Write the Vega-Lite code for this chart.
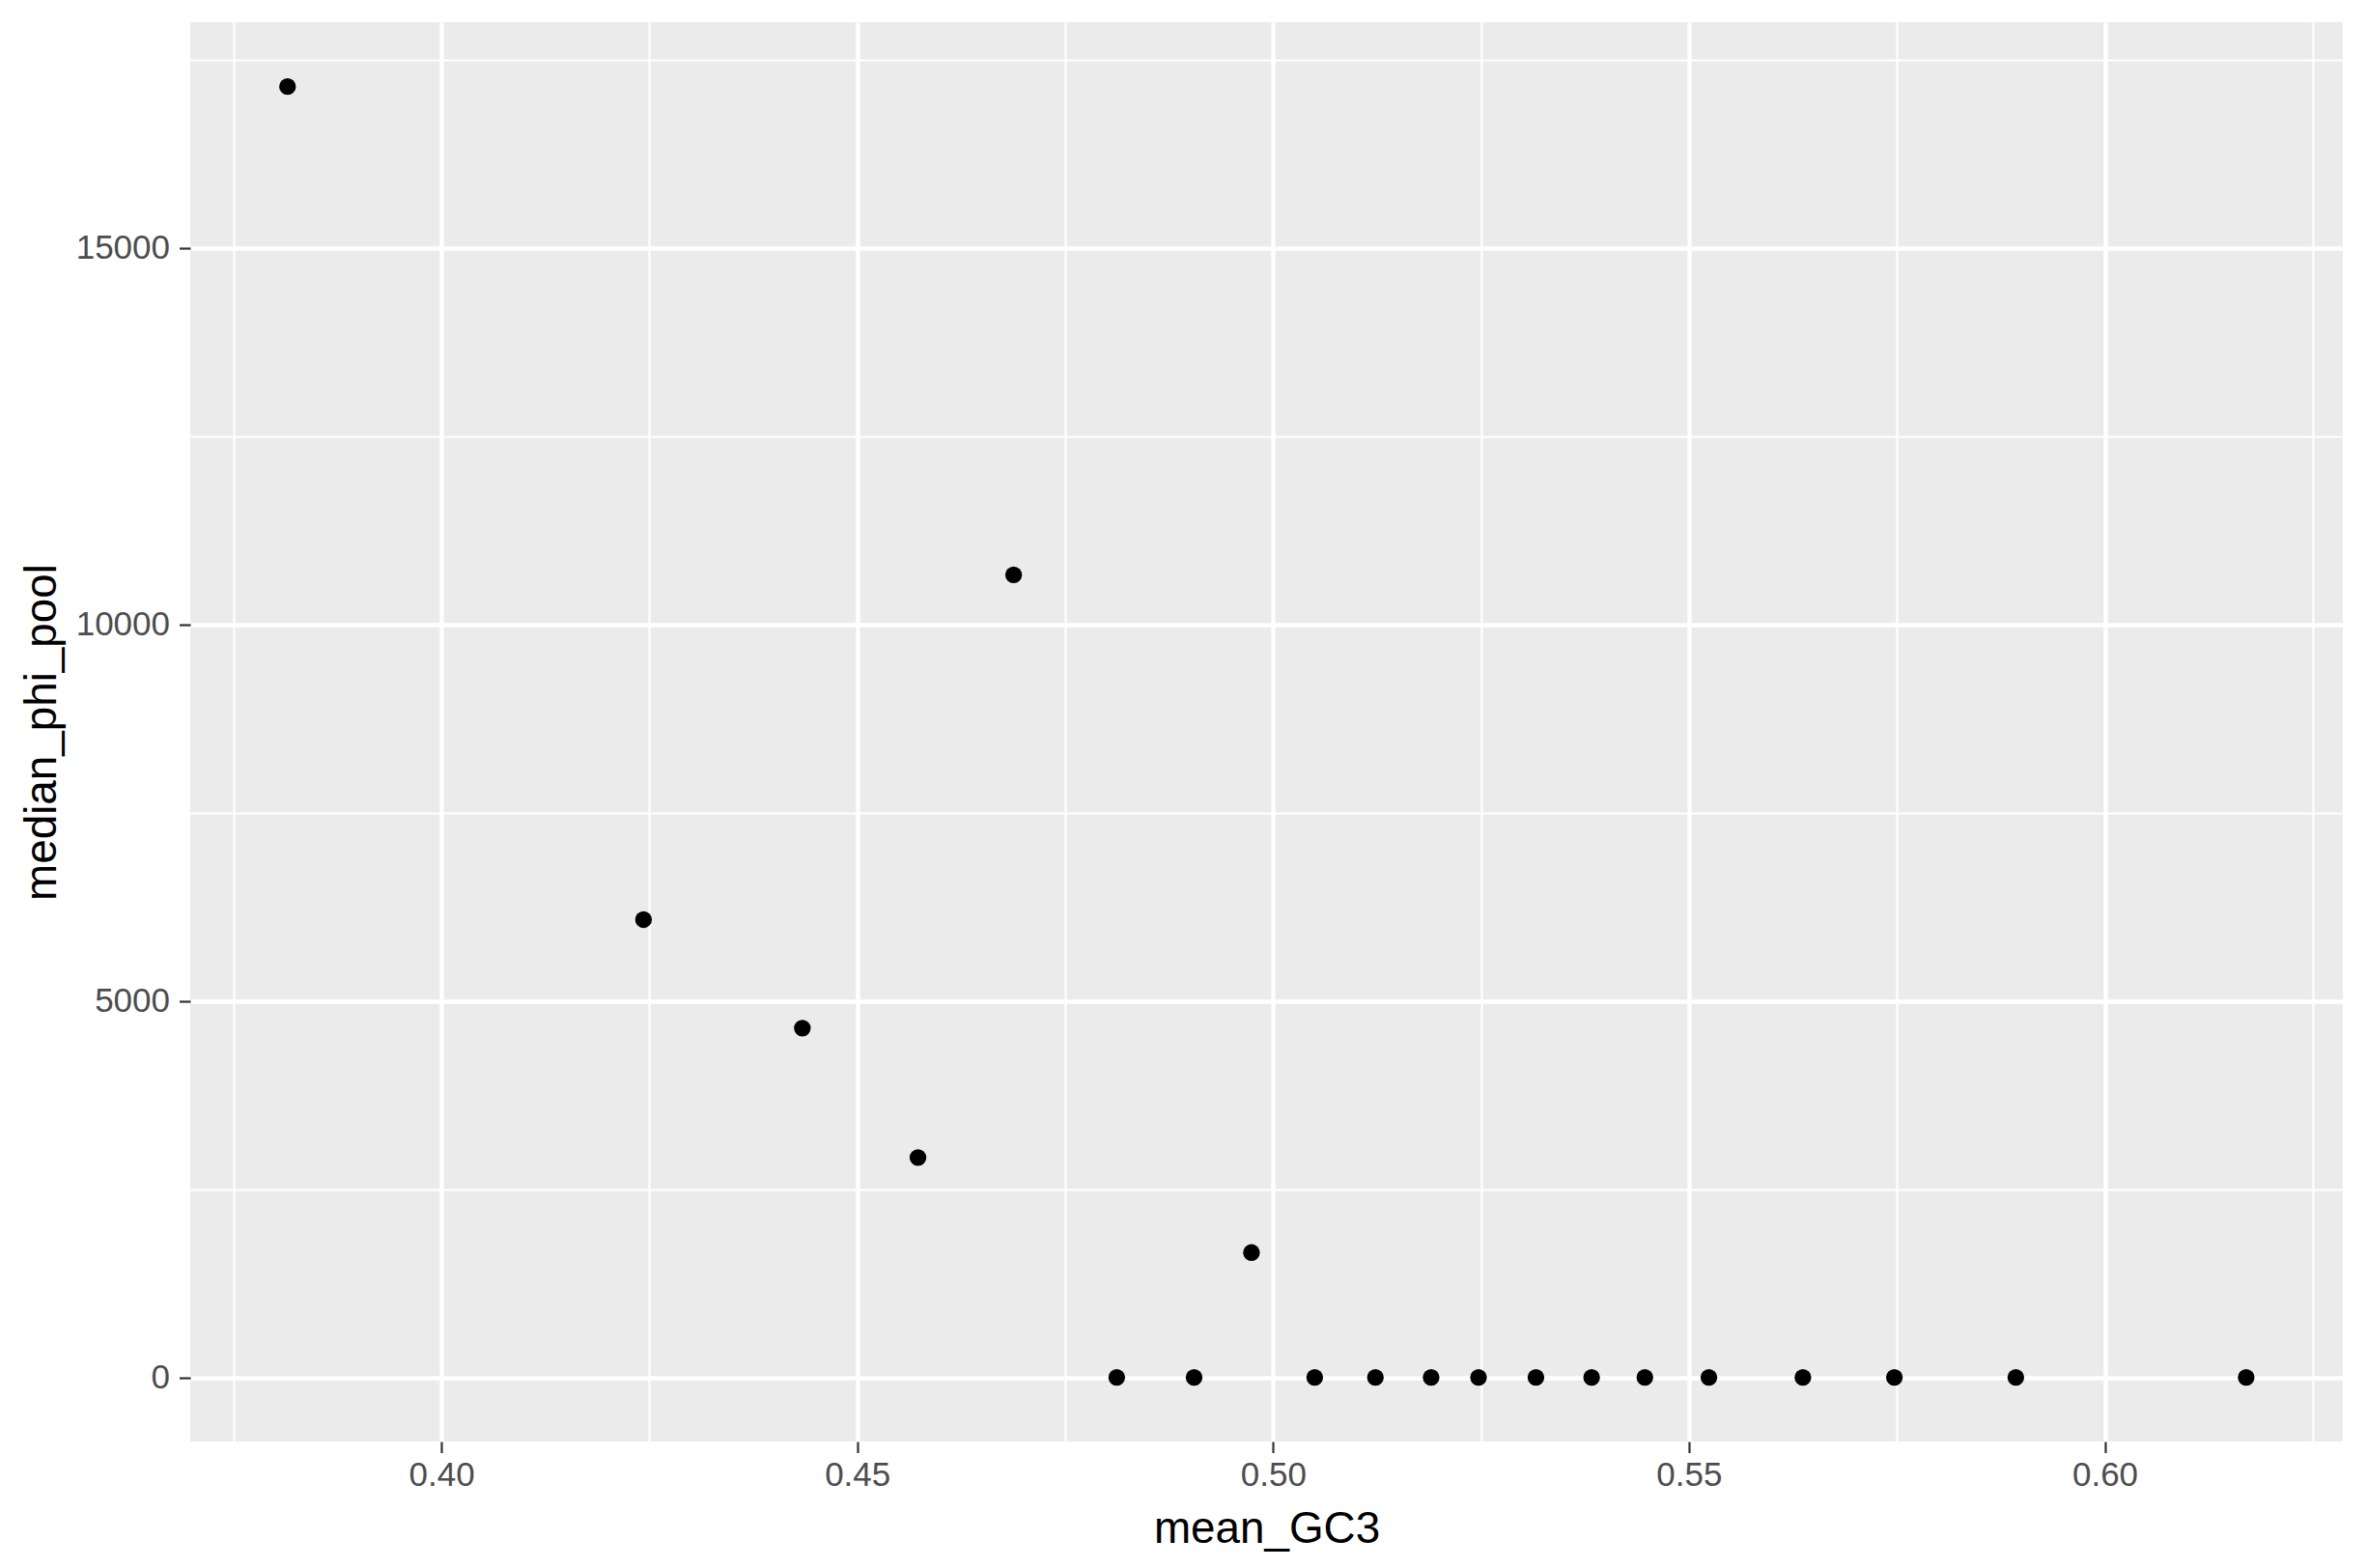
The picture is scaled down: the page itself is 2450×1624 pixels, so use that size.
{
  "$schema": "https://vega.github.io/schema/vega-lite/v6.json",
  "width": 2229,
  "height": 1470,
  "autosize": {"type": "none"},
  "padding": {"left": 197, "top": 23, "right": 24, "bottom": 131},
  "background": "white",
  "config": {
    "view": {"fill": "#EBEBEB", "stroke": null},
    "font": "Liberation Sans"
  },
  "data": {
    "values": [
      {"mean_GC3": 0.3815, "median_phi_pool": 17142},
      {"mean_GC3": 0.4243, "median_phi_pool": 6079},
      {"mean_GC3": 0.4434, "median_phi_pool": 4638},
      {"mean_GC3": 0.4573, "median_phi_pool": 2919},
      {"mean_GC3": 0.4688, "median_phi_pool": 10657},
      {"mean_GC3": 0.4812, "median_phi_pool": 0},
      {"mean_GC3": 0.4905, "median_phi_pool": 0},
      {"mean_GC3": 0.4974, "median_phi_pool": 1658},
      {"mean_GC3": 0.5050, "median_phi_pool": 0},
      {"mean_GC3": 0.5123, "median_phi_pool": 0},
      {"mean_GC3": 0.5190, "median_phi_pool": 0},
      {"mean_GC3": 0.5247, "median_phi_pool": 0},
      {"mean_GC3": 0.5316, "median_phi_pool": 0},
      {"mean_GC3": 0.5383, "median_phi_pool": 0},
      {"mean_GC3": 0.5447, "median_phi_pool": 0},
      {"mean_GC3": 0.5524, "median_phi_pool": 0},
      {"mean_GC3": 0.5637, "median_phi_pool": 0},
      {"mean_GC3": 0.5747, "median_phi_pool": 0},
      {"mean_GC3": 0.5893, "median_phi_pool": 0},
      {"mean_GC3": 0.6170, "median_phi_pool": 0}
    ]
  },
  "mark": {"type": "point", "filled": true, "color": "black", "opacity": 1, "size": 300, "shape": "circle"},
  "encoding": {
    "x": {
      "field": "mean_GC3",
      "type": "quantitative",
      "scale": {"domain": [0.3698, 0.62862], "nice": false, "zero": false},
      "axis": {
        "title": "mean_GC3",
        "values": [0.375, 0.4, 0.425, 0.45, 0.475, 0.5, 0.525, 0.55, 0.575, 0.6, 0.625],
        "labelExpr": "round(datum.value*1000) % 50 === 0 ? format(datum.value, '.2f') : ''",
        "labelOverlap": false,
        "labelFlush": false,
        "labelBound": false,
        "labelFontSize": 35,
        "labelColor": "#4D4D4D",
        "labelPadding": 6,
        "titleFontSize": 45.8,
        "titleFontWeight": "normal",
        "titleColor": "black",
        "titlePadding": 16,
        "domain": false,
        "tickSize": 11.5,
        "tickWidth": 2.2,
        "tickColor": "#333333",
        "tickOpacity": {"condition": {"test": "round(datum.value*1000) % 50 === 0", "value": 1}, "value": 0},
        "grid": true,
        "gridColor": "white",
        "gridOpacity": 1,
        "gridWidth": {"condition": {"test": "round(datum.value*1000) % 50 === 0", "value": 4.3}, "value": 2.2}
      }
    },
    "y": {
      "field": "median_phi_pool",
      "type": "quantitative",
      "scale": {"domain": [-851.6, 17997], "nice": false, "zero": false},
      "axis": {
        "title": "median_phi_pool",
        "values": [2500, 5000, 7500, 10000, 12500, 15000, 17500, 0],
        "labelExpr": "datum.value % 5000 === 0 ? format(datum.value, 'd') : ''",
        "labelOverlap": false,
        "labelFlush": false,
        "labelBound": false,
        "labelFontSize": 35,
        "labelColor": "#4D4D4D",
        "labelPadding": 10,
        "titleFontSize": 45.8,
        "titleFontWeight": "normal",
        "titleColor": "black",
        "titlePadding": 11,
        "domain": false,
        "tickSize": 11.5,
        "tickWidth": 2.2,
        "tickColor": "#333333",
        "tickOpacity": {"condition": {"test": "datum.value % 5000 === 0", "value": 1}, "value": 0},
        "grid": true,
        "gridColor": "white",
        "gridOpacity": 1,
        "gridWidth": {"condition": {"test": "datum.value % 5000 === 0", "value": 4.3}, "value": 2.2}
      }
    }
  }
}
